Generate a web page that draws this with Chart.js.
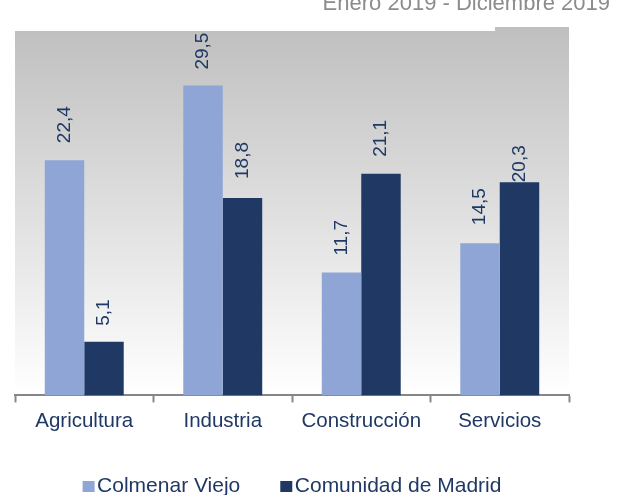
<!DOCTYPE html>
<html>
<head>
<meta charset="utf-8">
<script src="https://cdn.jsdelivr.net/npm/chart.js@4"></script>
<style>
  body { margin: 0; background: #fff; }
  #wrap { width: 628px; height: 495px; }
</style>
</head>
<body>
<div id="wrap"><canvas id="sectorChart" width="628" height="495"></canvas></div>
<script>
const sectores = ['Agricultura', 'Industria', 'Construcción', 'Servicios'];
const colmenarViejo = [22.4, 29.5, 11.7, 14.5];
const comunidadMadrid = [5.1, 18.8, 21.1, 20.3];
const periodo = 'Enero 2019 - Diciembre 2019';

const navy = '#1F3864';
const lightBlue = '#8FA5D5';
const fontFamily = '"Liberation Sans", Arial, sans-serif';

// gap between bar top and its rotated value label (the 20,3 one sits on the bar)
const labelGaps = [[17, 16, 17, 18], [16, 19, 17, 0]];

const backgroundPlugin = {
  id: 'gradientBg',
  beforeDraw(chart) {
    const { ctx, chartArea } = chart;
    const g = ctx.createLinearGradient(0, chartArea.top, 0, chartArea.bottom);
    g.addColorStop(0, '#C0C0C0');
    g.addColorStop(1, '#FFFFFF');
    ctx.save();
    ctx.fillStyle = g;
    ctx.fillRect(chartArea.left, chartArea.top, chartArea.right - chartArea.left, chartArea.bottom - chartArea.top);
    // small grey step at the top right corner
    ctx.fillStyle = '#C0C0C0';
    ctx.fillRect(chartArea.right - 74, chartArea.top - 4, 74, 4);
    ctx.restore();
  }
};

const valueLabels = {
  id: 'valueLabels',
  afterDatasetsDraw(chart) {
    const ctx = chart.ctx;
    ctx.save();
    ctx.font = '19px ' + fontFamily;
    ctx.fillStyle = navy;
    ctx.textAlign = 'left';
    ctx.textBaseline = 'middle';
    chart.data.datasets.forEach(function(ds, di) {
      chart.getDatasetMeta(di).data.forEach(function(bar, i) {
        ctx.save();
        ctx.translate(bar.x, bar.y - labelGaps[di][i]);
        ctx.rotate(-Math.PI / 2);
        ctx.fillText(ds.data[i].toFixed(1).replace('.', ','), 0, 0);
        ctx.restore();
      });
    });
    ctx.restore();
  }
};

const extras = {
  id: 'extras',
  afterDraw(chart) {
    const { ctx, chartArea } = chart;
    ctx.save();
    // period text, cut at the top of the picture
    ctx.font = '22px ' + fontFamily;
    ctx.fillStyle = '#8C8C8C';
    ctx.textAlign = 'right';
    ctx.textBaseline = 'alphabetic';
    ctx.fillText(periodo, 610, 10);

    // legend
    ctx.font = '21px ' + fontFamily;
    ctx.textAlign = 'left';
    const box = 12, gap = 2.5, spacing = 40;
    const items = chart.data.datasets.map(function(ds) {
      return { text: ds.label, color: ds.backgroundColor, w: box + gap + ctx.measureText(ds.label).width };
    });
    const total = items.reduce(function(s, it) { return s + it.w; }, 0) + spacing * (items.length - 1);
    let x = (chartArea.left + chartArea.right) / 2 - total / 2;
    const baseY = chart.height - 3.5;
    items.forEach(function(it) {
      ctx.fillStyle = it.color;
      ctx.fillRect(x, baseY - 10.5, box, 11);
      ctx.fillStyle = navy;
      ctx.fillText(it.text, x + box + gap, baseY);
      x += it.w + spacing;
    });
    ctx.restore();
  }
};

new Chart(document.getElementById('sectorChart').getContext('2d'), {
  type: 'bar',
  data: {
    labels: sectores,
    datasets: [
      {
        label: 'Colmenar Viejo',
        data: colmenarViejo,
        backgroundColor: lightBlue,
        borderWidth: 0,
        categoryPercentage: 0.57,
        barPercentage: 1.0
      },
      {
        label: 'Comunidad de Madrid',
        data: comunidadMadrid,
        backgroundColor: navy,
        borderWidth: 0,
        categoryPercentage: 0.57,
        barPercentage: 1.0
      }
    ]
  },
  options: {
    responsive: false,
    maintainAspectRatio: false,
    animation: false,
    layout: { padding: { left: 15, right: 59, top: 31, bottom: 54 } },
    plugins: {
      legend: { display: false },
      tooltip: { enabled: false },
      title: { display: false }
    },
    scales: {
      x: {
        grid: {
          display: true,
          drawOnChartArea: false,
          drawTicks: true,
          tickLength: 7,
          tickWidth: 2,
          tickColor: '#868686',
          offset: true
        },
        border: { display: true, color: '#868686', width: 2 },
        ticks: {
          color: navy,
          padding: 7,
          font: { family: fontFamily, size: 20.5 }
        }
      },
      y: {
        display: false,
        min: 0,
        max: 34.7
      }
    }
  },
  plugins: [backgroundPlugin, valueLabels, extras]
});
</script>
</body>
</html>
